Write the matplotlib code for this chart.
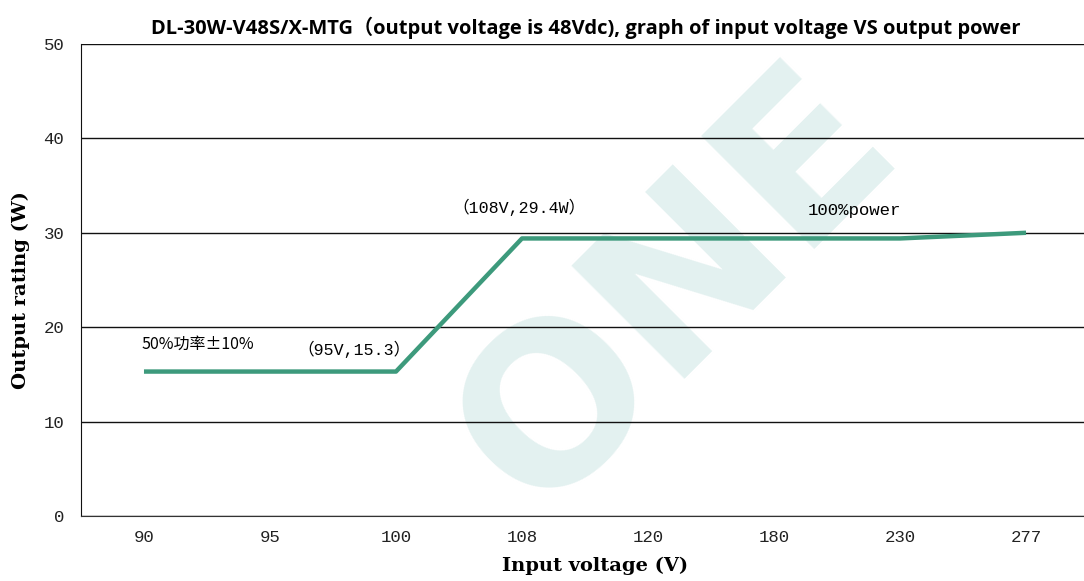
import matplotlib
matplotlib.use("Agg")
import matplotlib.pyplot as plt

# data
voltages = ["90", "95", "100", "108", "120", "180", "230", "277"]
power = [15.3, 15.3, 15.3, 29.4, 29.4, 29.4, 29.4, 30.0]
y_ticks = [0, 10, 20, 30, 40, 50]

LINE = "#3d9a7c"
WM = "#e3f1f0"
MONO = ["Liberation Mono", "Noto Sans CJK SC"]
BOLDSERIF = "DejaVu Serif"

fig = plt.figure(figsize=(10.84, 5.81), dpi=100)
ax = fig.add_axes([0.0747, 0.1119, 0.9253, 0.8124])
ax.patch.set_alpha(0)

# watermark behind the plot
fig.text(0.625, 0.5, "ONE", rotation=45, fontsize=158, color=WM,
         fontfamily="DejaVu Sans", fontweight="bold",
         ha="center", va="center", zorder=-1)

x = list(range(len(voltages)))
ax.plot(x, power, color=LINE, lw=3.2, solid_capstyle="butt", zorder=3)

ax.set_xlim(-0.5, 7.46)
ax.set_ylim(0, 50)
ax.set_yticks(y_ticks)
ax.set_xticks(x)
ax.set_xticklabels(voltages)
ax.tick_params(length=0, labelsize=12.5)
ax.tick_params(axis="x", pad=10)
ax.tick_params(axis="y", pad=12)
for lab in ax.get_xticklabels() + ax.get_yticklabels():
    lab.set_fontfamily(MONO)
    lab.set_color("#222222")
ax.grid(axis="y", color="#111111", lw=1.0)
ax.set_axisbelow(True)
for s in ["top", "right"]:
    ax.spines[s].set_visible(False)
ax.spines["left"].set_color("#111111")
ax.spines["bottom"].set_color("#333333")

ax.text(2.45, 32.7, "（108V,29.4W）", fontsize=12, fontfamily=MONO, va="center")
ax.text(5.27, 32.4, "100%power", fontsize=12.5, fontfamily=MONO, va="center")
ax.text(-0.02, 18.2, "50%功率±10%", fontsize=11.5,
        fontfamily=["Noto Sans CJK SC", "DejaVu Sans"], va="center")
ax.text(1.22, 17.7, "（95V,15.3）", fontsize=12, fontfamily=MONO, va="center")

fig.text(0.54, 0.952, "DL-30W-V48S/X-MTG（output voltage is 48Vdc), graph of input voltage VS output power",
         ha="center", va="center", fontsize=14.5, fontweight="bold",
         fontfamily=["Open Sans", "Noto Sans CJK SC"])
fig.text(0.549, 0.026, "Input voltage (V)", ha="center", va="center",
         fontsize=14, fontweight="bold", fontfamily=BOLDSERIF)
fig.text(0.019, 0.5, "Output rating (W)", ha="center", va="center",
         rotation=90, fontsize=14, fontweight="bold", fontfamily=BOLDSERIF)

fig.savefig("out.png", dpi=100)
